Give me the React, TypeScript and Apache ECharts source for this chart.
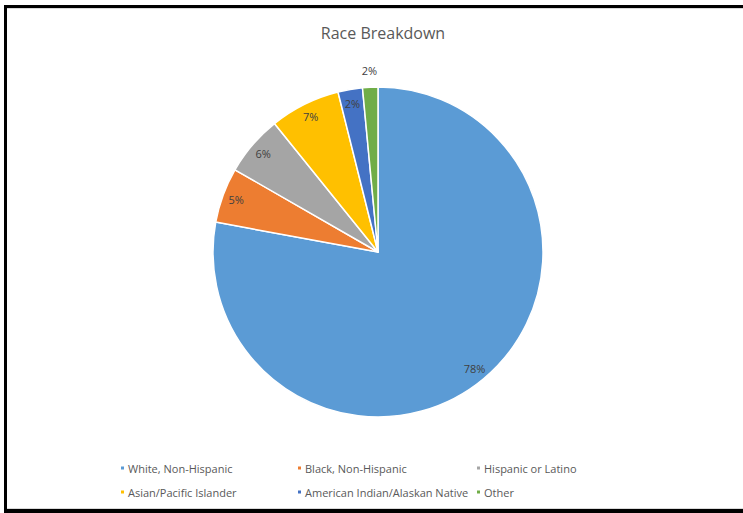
import React, { useEffect, useRef } from "react";
import * as echarts from "echarts";

const categories = [
  "White, Non-Hispanic",
  "Black, Non-Hispanic",
  "Hispanic or Latino",
  "Asian/Pacific Islander",
  "American Indian/Alaskan Native",
  "Other",
];
const values = [77.9, 5.4, 5.9, 6.9, 2.4, 1.5];
const colors = ["#5B9BD5", "#ED7D31", "#A5A5A5", "#FFC000", "#4472C4", "#70AD47"];
const legendColumns = [
  ["White, Non-Hispanic", "Asian/Pacific Islander"],
  ["Black, Non-Hispanic", "American Indian/Alaskan Native"],
  ["Hispanic or Latino", "Other"],
];
const outsideLabelNames = ["Other"];

const FONT = "'Open Sans', 'Liberation Sans', sans-serif";

export default function App() {
  const ref = useRef<HTMLDivElement>(null);
  useEffect(() => {
    if (!ref.current) return;
    const chart = echarts.init(ref.current, null, { renderer: "svg" });
    const pct = (p: any) => Math.round(p.value) + "%";
    const baseData = categories.map((name, i) => ({ name, value: values[i] }));
    const option: any = {
      animation: false,
      backgroundColor: "#ffffff",
      title: {
        text: "Race Breakdown",
        left: 378,
        textAlign: "center",
        top: 20,
        textStyle: { fontFamily: FONT, fontSize: 16, fontWeight: "normal", color: "#595959" },
      },
      legend: legendColumns.map((col, ci) => ({
        data: col,
        orient: "vertical",
        left: [114, 291, 470][ci],
        top: 456,
        icon: "rect",
        itemWidth: 5,
        itemHeight: 5,
        itemGap: 10,
        selectedMode: false,
        textStyle: { fontFamily: FONT, fontSize: 11, color: "#595959", lineHeight: 14, padding: [0, 0, 0, -2] },
      })),
      color: colors,
      series: [
        {
          type: "pie",
          center: [378, 252],
          radius: [0, 165],
          startAngle: 90,
          clockwise: true,
          data: baseData.map((d, i) => ({ ...d, itemStyle: { color: colors[i] } })),
          label: { show: false },
          labelLine: { show: false },
          itemStyle: { borderColor: "#ffffff", borderWidth: 1.5 },
          silent: true,
        },
        {
          type: "pie",
          center: [378, 252],
          radius: [120, 176],
          startAngle: 90,
          clockwise: true,
          silent: true,
          data: baseData.map((d) => ({
            ...d,
            label: { show: !outsideLabelNames.includes(d.name) },
          })),
          itemStyle: { color: "rgba(0,0,0,0)", borderWidth: 0 },
          label: {
            show: true,
            position: "inside",
            formatter: pct,
            fontFamily: FONT,
            fontSize: 11,
            color: "#404040",
          },
          labelLine: { show: false },
        },
        {
          type: "pie",
          center: [378, 252],
          radius: [170, 188],
          startAngle: 90,
          clockwise: true,
          silent: true,
          data: baseData.map((d) => ({
            ...d,
            label: { show: outsideLabelNames.includes(d.name) },
          })),
          itemStyle: { color: "rgba(0,0,0,0)", borderWidth: 0 },
          label: {
            show: true,
            position: "inside",
            formatter: pct,
            fontFamily: FONT,
            fontSize: 11,
            color: "#404040",
          },
          labelLine: { show: false },
        },
      ],
      graphic: [
        { type: "rect", shape: { x: 4, y: 5, width: 739, height: 3 }, style: { fill: "#000000" } },
        { type: "rect", shape: { x: 4, y: 8, width: 739, height: 1 }, style: { fill: "#d9d9d9" } },
        { type: "rect", shape: { x: 4, y: 5, width: 3, height: 508 }, style: { fill: "#000000" } },
        { type: "rect", shape: { x: 4, y: 509, width: 739, height: 4 }, style: { fill: "#000000" } },
        { type: "rect", shape: { x: 7, y: 508, width: 736, height: 1 }, style: { fill: "#d9d9d9" } },
      ],
    };
    chart.setOption(option);
    return () => chart.dispose();
  }, []);
  return (
    <div
      ref={ref}
      style={{ position: "fixed", left: 0, top: 0, width: 743, height: 513 }}
    />
  );
}
